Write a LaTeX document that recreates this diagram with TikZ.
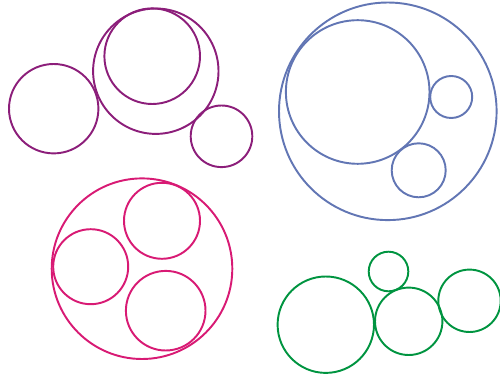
\documentclass[tikz,border=0pt]{standalone}
\usepackage{xcolor}
\definecolor{dkpurple}{RGB}{140,30,122}
\definecolor{slateblue}{RGB}{98,118,180}
\definecolor{rosered}{RGB}{216,26,116}
\definecolor{dkgreen}{RGB}{0,148,64}

\begin{document}
\begin{tikzpicture}[x=0.02cm, y=-0.02cm, ring/.style={line width=1.1pt}]
  \useasboundingbox (0,0) rectangle (500,381);

  % Purple cluster, top left
  \foreach \cx/\cy/\r in {53.7/108.7/44.7, 155.8/71.2/62.7, 152.2/56.2/47.8, 221.5/136.3/30.8}
    \draw[ring, dkpurple] (\cx,\cy) circle (\r);

  % Blue cluster, top right
  \foreach \cx/\cy/\r in {387.8/111.3/108.8, 357.7/92/71.8, 451.2/97/21, 418.7/170.3/27}
    \draw[ring, slateblue] (\cx,\cy) circle (\r);

  % Red cluster, bottom left
  \foreach \cx/\cy/\r in {142/268.7/90.3, 90.7/266.7/37.5, 162/220.8/38, 165.7/310.7/39.8}
    \draw[ring, rosered] (\cx,\cy) circle (\r);

  % Green cluster, bottom right
  \foreach \cx/\cy/\r in {325.8/324.7/48.2, 388.5/271.5/19.8, 408.7/321.3/33.7, 469.5/300.8/31.2}
    \draw[ring, dkgreen] (\cx,\cy) circle (\r);

\end{tikzpicture}
\end{document}
